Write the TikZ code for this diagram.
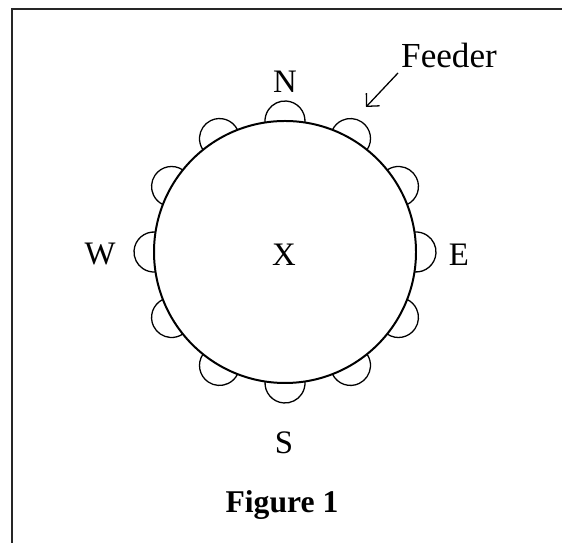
\documentclass[tikz,border=0pt]{standalone}
\usepackage{fontspec}
\setmainfont{Liberation Serif}
\usetikzlibrary{arrows.meta,positioning,calc}

\begin{document}
\begin{tikzpicture}[x=0.03cm,y=0.03cm,
        lbl/.style={font=\fontsize{28}{32}\selectfont,inner sep=0pt},
        hub/.style={draw,line width=1.7pt},
        cup/.style={draw,line width=1.1pt},
        arr/.style={-{Straight Barb[length=2.8mm,width=5.5mm]},line width=1.1pt},
        frm/.style={draw=black!85,line width=1.1pt}
      ]
        \useasboundingbox (0,0) rectangle (562,543);
        \draw[frm] (12,0) -- (12,534) -- (562,534);
        % big circle with feeders round it
        \coordinate (O) at (285,291);
        \draw[hub] (O) circle[radius=131];
        \foreach \a in {0,30,...,330}
          \draw[cup] ($(O)+(\a:131)+({\a-94}:20)$)
            arc[start angle=\a-94,end angle=\a+94,radius=20];
        \node[lbl] (X) at (284,288) {X};
        \node[lbl] (N) at (285,461) {N};
        \node[lbl] (S) at (284,100) {S};
        \node[lbl] (W) at (100,289) {W};
        \node[lbl] (E) at (459,288) {E};
        \node[lbl,font=\fontsize{30}{34}\selectfont,anchor=base west] (feeder) at (401,475) {Feeder};
        \coordinate (tail) at (398,470);
        \coordinate (tip) at (366,436);
        \draw[arr] (tail) -- (tip);
        \node[lbl,font=\fontsize{27}{32}\selectfont\bfseries,anchor=base] (fig) at (282,30) {Figure 1};
      \end{tikzpicture}
\end{document}
